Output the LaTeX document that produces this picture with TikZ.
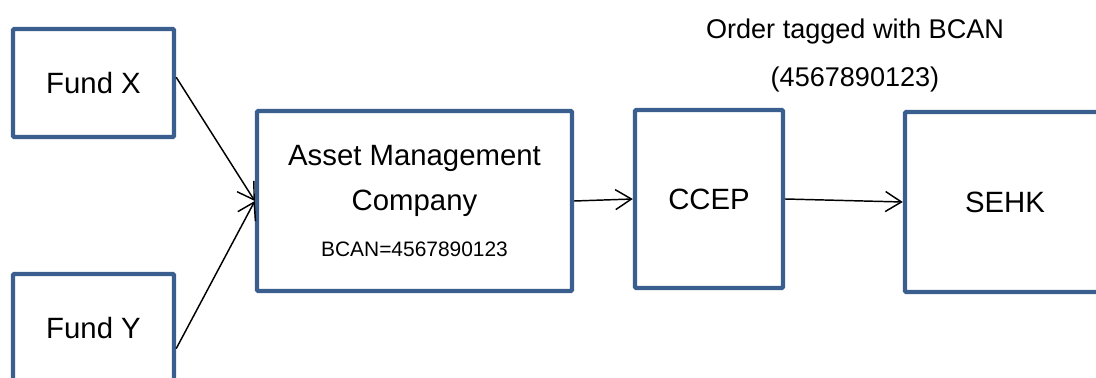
\documentclass[tikz,border=0pt]{standalone}
\usepackage{fontspec}
\setmainfont{Liberation Sans}
\usetikzlibrary{arrows.meta}
\definecolor{boxblue}{HTML}{3A5E8E}

\begin{document}
\begin{tikzpicture}[x=0.75pt,y=-0.75pt,>={Straight Barb[length=12pt,width=15pt]},
      box/.style={draw=boxblue,line width=3.3pt,rounded corners=1pt,inner sep=0pt,
        font=\fontsize{22}{34}\selectfont,align=center},
      flow/.style={->,line width=1.1pt}]
      \useasboundingbox (0,0) rectangle (1096,378);

      \node[box,minimum width=120.75pt,minimum height=81pt] (fx) at (93.5,83) {Fund X};
      \node[box,minimum width=120.75pt,minimum height=81pt] (fy) at (93.5,328) {Fund Y};
      \node[box,minimum width=236.25pt,minimum height=135pt] (am) at (414.5,201)
        {Asset Management\\Company\\{\fontsize{15.7}{34}\selectfont BCAN=4567890123}};
      \node[box,minimum width=111pt,minimum height=133.5pt] (cc) at (709,199) {CCEP};
      \node[box,minimum width=150pt,minimum height=135pt] (se) at (1005,202) {SEHK};

      \node[font=\fontsize{20.3}{36}\selectfont,align=center] (tag) at (855,55)
        {Order tagged with BCAN\\(4567890123)};

      \path[flow]
      (fx.4) edge (am.west)
      (fy.-14) edge (am.west)
      (am.east) edge (cc.west)
      (cc.east) edge (se.west)
      ;
    \end{tikzpicture}
\end{document}
